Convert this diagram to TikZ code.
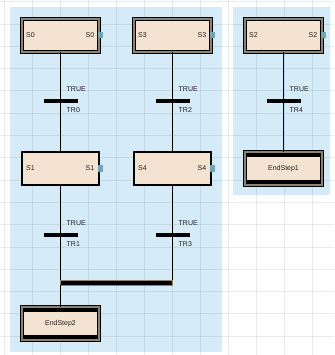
\documentclass[tikz,border=0pt]{standalone}
\usepackage{fontspec}
\setmainfont{Liberation Sans}
\definecolor{stepfill}{HTML}{F5E3D1}
\definecolor{regionblue}{HTML}{D5EBF8}
\definecolor{portteal}{HTML}{6FA6B5}
\definecolor{bordergray}{HTML}{8C8275}
\definecolor{txt}{HTML}{222222}
\tikzset{
  stepbox/.style={draw=black, line width=1.2pt, fill=stepfill, minimum width=77pt, minimum height=33pt, inner sep=0pt, outer sep=0pt},
  initbox/.style={stepbox, line width=1.1pt, double=bordergray, double distance=1.2pt},
  endbox/.style={initbox, font=\fontsize{7}{8}\selectfont, text=txt,
    path picture={\fill[black] ([shift={(2pt,-2.2pt)}]path picture bounding box.north west) rectangle ([shift={(-2pt,-5.2pt)}]path picture bounding box.north east);
                  \fill[black] ([shift={(2pt,2.2pt)}]path picture bounding box.south west) rectangle ([shift={(-2pt,5.2pt)}]path picture bounding box.south east);}},
  trbar/.style={fill=black, minimum width=34pt, minimum height=3.2pt, inner sep=0pt, outer sep=0pt},
  convbar/.style={fill=black, draw=bordergray, line width=0.4pt, minimum width=112pt, minimum height=4.5pt, inner sep=0pt, outer sep=0pt},
  lbl/.style={font=\fontsize{7}{8}\selectfont, text=txt, inner sep=0pt},
  port/.style={fill=portteal, minimum width=4.5pt, minimum height=6pt, inner sep=0pt, anchor=west},
  link/.style={line width=1.2pt, draw=black},
  gridline/.style={draw=black, opacity=0.08, line width=0.9pt}
}
\begin{document}
\begin{tikzpicture}[x=1pt, y=-1pt]
\useasboundingbox (0,0) rectangle (334,355);
\fill[white] (0,0) rectangle (334,355);
% regions
\fill[regionblue] (10,7) rectangle (222,352);
\fill[regionblue] (233,7) rectangle (330,195);
% grid
\foreach \gx in {0,...,11} {\draw[gridline] ({4+28*\gx},0) -- ({4+28*\gx},355);}
\foreach \gy in {0,...,15} {\draw[gridline] (0,{1.7+22.3*\gy}) -- (334,{1.7+22.3*\gy});}

% steps
\node[initbox] (S0) at (60.5,35.5) {};
\node[initbox] (S3) at (172.5,35.5) {};
\node[initbox] (S2) at (283.5,35.5) {};
\node[stepbox] (S1) at (60.5,168.5) {};
\node[stepbox] (S4) at (172.5,168.5) {};
\node[endbox] (E1) at (283.5,168.5) {EndStep1};
\node[endbox] (E2) at (60.5,323.5) {EndStep2};

% transitions
\node[trbar] (TR0) at (60.5,101) {};
\node[trbar] (TR2) at (172.5,101) {};
\node[trbar] (TR4) at (283.5,101) {};
\node[trbar] (TR1) at (60.5,235) {};
\node[trbar] (TR3) at (172.5,235) {};
\node[convbar] (CV) at (116.5,282.5) {};

% connectors
\draw[link] (S0.south) -- (TR0.north);
\draw[link] (TR0.south) -- (S1.north);
\draw[link] (S3.south) -- (TR2.north);
\draw[link] (TR2.south) -- (S4.north);
\draw[link] (S2.south) -- (TR4.north);
\draw[link] (TR4.south) -- (E1.north);
\draw[link] (S1.south) -- (TR1.north);
\draw[link] (TR1.south) -- (TR1.south |- CV.north);
\draw[link] (S4.south) -- (TR3.north);
\draw[link] (TR3.south) -- (TR3.south |- CV.north);
\draw[link] (E2.north |- CV.south) -- (E2.north);

% step labels
\foreach \s in {S0,S3,S2,S1,S4} {
  \node[lbl, anchor=west] (\s L) at ([xshift=4pt]\s.west) {\s};
  \node[lbl, anchor=east] (\s R) at ([xshift=-4.5pt]\s.east) {\s};
  \node[port] (\s P) at ([xshift=-1pt]\s.east) {};
}

% transition labels
\foreach \t in {TR0,TR2,TR4,TR1,TR3} {
  \node[lbl, anchor=west] (\t C) at ([shift={(6pt,12pt)}]\t.center) {TRUE};
  \node[lbl, anchor=west] (\t N) at ([shift={(6pt,-9pt)}]\t.center) {\t};
}
\end{tikzpicture}
\end{document}
